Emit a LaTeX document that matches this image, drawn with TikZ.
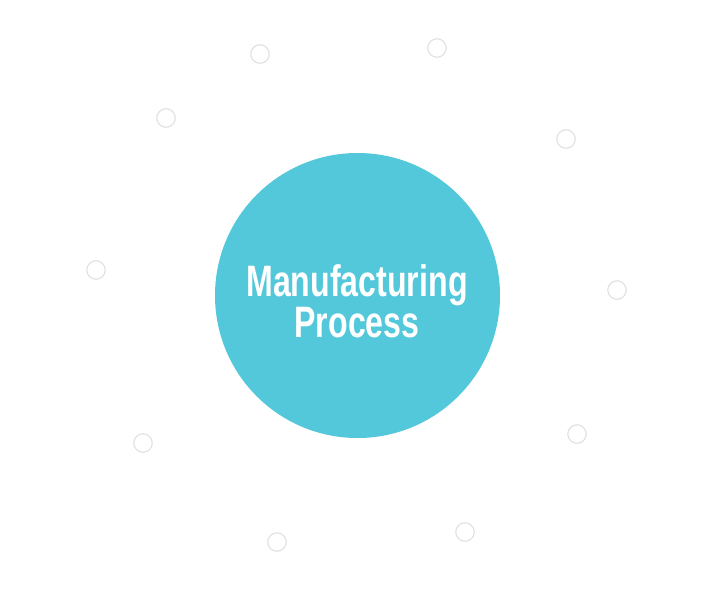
\documentclass[tikz,border=0pt]{standalone}
\usepackage{fontspec}
\newfontfamily\procfont[FakeStretch=0.73]{Liberation Sans Bold}
\definecolor{hubcyan}{HTML}{52C8DA}
\definecolor{dotgray}{HTML}{E0E0E0}
\begin{document}
\begin{tikzpicture}[x=1pt,y=-1pt,
hub/.style={circle,fill=hubcyan,minimum size=285pt,inner sep=0pt},
dot/.style={circle,draw=dotgray,line width=1.1pt,minimum size=18.5pt,inner sep=0pt},
hubtext/.style={text=white,font=\procfont\fontsize{44}{35}\selectfont,align=center,inner sep=0pt}]
\useasboundingbox[fill=white](0,0)rectangle(711,595);
\node[hub](hub)at(357.5,295.5){};
\node[hubtext,anchor=base](label)at(357,337){Manufacturing\\Process};
\foreach \px/\py [count=\i] in {260/54,437/48,166/118,566/139,96/270,617/290,143/443,577/434,277/542,465/532}
  \node[dot](dot\i)at(\px,\py){};
\end{tikzpicture}
\end{document}
